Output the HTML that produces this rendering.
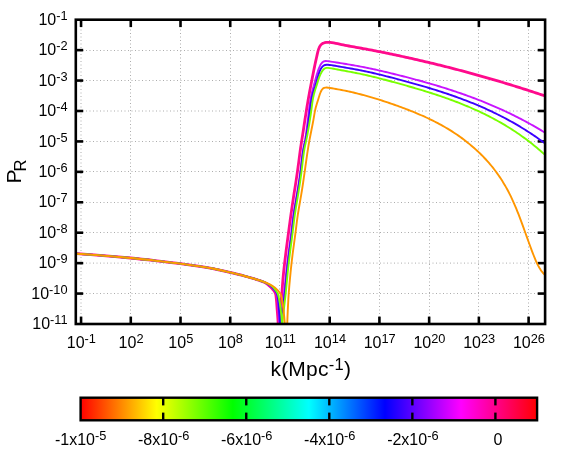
<!DOCTYPE html>
<html><head><meta charset="utf-8"><title>plot</title>
<style>html,body{margin:0;padding:0;background:#fff;}svg{display:block;}text{filter:grayscale(1);}text{font-family:"Liberation Sans",sans-serif;fill:#000;}</style></head><body>
<svg width="572" height="458" viewBox="0 0 572 458">
<rect x="0" y="0" width="572" height="458" fill="#ffffff"/>
<defs><clipPath id="pc"><rect x="75.80" y="19.70" width="469.30" height="304.30"/></clipPath>
<linearGradient id="rb" x1="0" y1="0" x2="1" y2="0"><stop offset="0.00000" stop-color="#ff0000"/><stop offset="0.16667" stop-color="#ffff00"/><stop offset="0.33333" stop-color="#00ff00"/><stop offset="0.50000" stop-color="#00ffff"/><stop offset="0.66667" stop-color="#0000ff"/><stop offset="0.83333" stop-color="#ff00ff"/><stop offset="1.00000" stop-color="#ff0000"/></linearGradient></defs>
<g stroke="#adadad" stroke-width="1" stroke-dasharray="1 2.5" fill="none"><line x1="81.00" y1="324.50" x2="81.00" y2="19.50"/><line x1="130.50" y1="324.50" x2="130.50" y2="19.50"/><line x1="180.50" y1="324.50" x2="180.50" y2="19.50"/><line x1="230.50" y1="324.50" x2="230.50" y2="19.50"/><line x1="279.50" y1="324.50" x2="279.50" y2="19.50"/><line x1="329.50" y1="324.50" x2="329.50" y2="19.50"/><line x1="379.50" y1="324.50" x2="379.50" y2="19.50"/><line x1="429.50" y1="324.50" x2="429.50" y2="19.50"/><line x1="478.50" y1="324.50" x2="478.50" y2="19.50"/><line x1="528.50" y1="324.50" x2="528.50" y2="19.50"/><line x1="75.50" y1="293.50" x2="545.50" y2="293.50"/><line x1="75.50" y1="263.10" x2="545.50" y2="263.10"/><line x1="75.50" y1="232.50" x2="545.50" y2="232.50"/><line x1="75.50" y1="202.50" x2="545.50" y2="202.50"/><line x1="75.50" y1="171.50" x2="545.50" y2="171.50"/><line x1="75.50" y1="141.50" x2="545.50" y2="141.50"/><line x1="75.50" y1="111.00" x2="545.50" y2="111.00"/><line x1="75.50" y1="80.50" x2="545.50" y2="80.50"/><line x1="75.50" y1="50.50" x2="545.50" y2="50.50"/></g>
<g stroke="#000" stroke-width="2.60" fill="none"><line x1="81.05" y1="324.00" x2="81.05" y2="316.60"/><line x1="81.05" y1="19.70" x2="81.05" y2="27.10"/><line x1="130.78" y1="324.00" x2="130.78" y2="316.60"/><line x1="130.78" y1="19.70" x2="130.78" y2="27.10"/><line x1="180.51" y1="324.00" x2="180.51" y2="316.60"/><line x1="180.51" y1="19.70" x2="180.51" y2="27.10"/><line x1="230.23" y1="324.00" x2="230.23" y2="316.60"/><line x1="230.23" y1="19.70" x2="230.23" y2="27.10"/><line x1="279.96" y1="324.00" x2="279.96" y2="316.60"/><line x1="279.96" y1="19.70" x2="279.96" y2="27.10"/><line x1="329.69" y1="324.00" x2="329.69" y2="316.60"/><line x1="329.69" y1="19.70" x2="329.69" y2="27.10"/><line x1="379.42" y1="324.00" x2="379.42" y2="316.60"/><line x1="379.42" y1="19.70" x2="379.42" y2="27.10"/><line x1="429.15" y1="324.00" x2="429.15" y2="316.60"/><line x1="429.15" y1="19.70" x2="429.15" y2="27.10"/><line x1="478.87" y1="324.00" x2="478.87" y2="316.60"/><line x1="478.87" y1="19.70" x2="478.87" y2="27.10"/><line x1="528.60" y1="324.00" x2="528.60" y2="316.60"/><line x1="528.60" y1="19.70" x2="528.60" y2="27.10"/><line x1="75.80" y1="293.57" x2="83.20" y2="293.57"/><line x1="545.10" y1="293.57" x2="537.70" y2="293.57"/><line x1="75.80" y1="263.14" x2="83.20" y2="263.14"/><line x1="545.10" y1="263.14" x2="537.70" y2="263.14"/><line x1="75.80" y1="232.71" x2="83.20" y2="232.71"/><line x1="545.10" y1="232.71" x2="537.70" y2="232.71"/><line x1="75.80" y1="202.28" x2="83.20" y2="202.28"/><line x1="545.10" y1="202.28" x2="537.70" y2="202.28"/><line x1="75.80" y1="171.85" x2="83.20" y2="171.85"/><line x1="545.10" y1="171.85" x2="537.70" y2="171.85"/><line x1="75.80" y1="141.42" x2="83.20" y2="141.42"/><line x1="545.10" y1="141.42" x2="537.70" y2="141.42"/><line x1="75.80" y1="110.99" x2="83.20" y2="110.99"/><line x1="545.10" y1="110.99" x2="537.70" y2="110.99"/><line x1="75.80" y1="80.56" x2="83.20" y2="80.56"/><line x1="545.10" y1="80.56" x2="537.70" y2="80.56"/><line x1="75.80" y1="50.13" x2="83.20" y2="50.13"/><line x1="545.10" y1="50.13" x2="537.70" y2="50.13"/></g>
<g clip-path="url(#pc)" fill="none" stroke-linejoin="round" stroke-linecap="butt"><path d="M72.00,253.40 C73.67,253.50 74.68,253.55 77.00,253.70 C82.28,254.05 94.22,254.89 103.00,255.60 C112.02,256.32 121.52,257.14 130.40,258.00 C138.82,258.81 146.75,259.67 155.00,260.60 C163.38,261.54 171.27,262.37 180.30,263.60 C190.74,265.02 204.86,267.07 214.00,268.80 C220.34,270.00 224.81,271.17 230.00,272.40 C234.93,273.57 239.61,274.70 244.40,276.00 C249.21,277.30 255.04,278.91 258.80,280.20 C261.29,281.05 263.02,281.56 264.90,282.60 C266.75,283.63 268.55,285.10 270.00,286.40 C271.25,287.51 272.27,288.59 273.20,289.80 C274.10,290.97 274.97,292.06 275.50,293.50 C276.13,295.21 276.14,297.22 276.40,299.50 C276.74,302.51 276.93,306.35 277.20,310.00 C277.49,313.96 277.92,318.33 278.10,322.40 C278.28,326.33 278.23,330.13 278.30,334.00" stroke="#ff0a8c" stroke-width="2.80"/><path d="M278.50,334.01 L278.42,331.50 L278.46,328.51 L278.62,325.15 L278.86,321.52 L279.17,317.72 L279.54,313.86 L279.94,310.05 L280.36,306.39 L280.77,302.98 L281.16,299.82 L281.52,296.83 L281.83,293.96 L282.07,291.10 L282.28,288.18 L282.49,285.06 L282.75,281.65 L283.07,277.87 L283.46,273.75 L283.91,269.37 L284.42,264.80 L284.96,260.09 L285.55,255.32 L286.15,250.53 L286.77,245.80 L287.38,241.18 L287.98,236.72 L288.54,232.48 L289.07,228.49 L289.58,224.68 L290.08,220.95 L290.59,217.22 L291.12,213.39 L291.69,209.43 L292.28,205.36 L292.90,201.21 L293.54,197.02 L294.19,192.81 L294.85,188.60 L295.52,184.37 L296.18,180.11 L296.83,175.80 L297.46,171.41 L298.07,166.97 L298.65,162.57 L299.20,158.32 L299.72,154.34 L300.21,150.73 L300.66,147.57 L301.11,144.61 L301.59,141.51 L302.15,137.93 L302.81,133.68 L303.54,128.96 L304.29,124.01 L305.05,119.07 L305.78,114.38 L306.44,110.20 L307.03,106.59 L307.57,103.38 L308.09,100.36 L308.62,97.32 L309.18,94.21 L309.75,91.12 L310.30,88.16 L310.82,85.43 L311.31,82.91 L311.80,80.45 L312.30,77.89 L312.83,75.22 L313.37,72.50 L313.91,69.77 L314.46,67.10 L314.99,64.54 L315.50,62.14 L316.00,59.92 L316.48,57.78 L316.95,55.60 L317.45,53.35 L318.01,51.09 L318.67,48.95 L319.47,47.01 L320.45,45.39 L321.65,44.15 L323.04,43.26 L324.60,42.69 L326.28,42.38 L328.07,42.29 L329.92,42.37 L331.83,42.58 L333.76,42.89 L335.70,43.27 L337.65,43.69 L339.58,44.12 L341.48,44.53 L343.36,44.93 L345.22,45.30 L347.06,45.66 L348.87,46.00 L350.68,46.34 L352.47,46.66 L354.25,46.98 L356.03,47.30 L357.80,47.61 L359.57,47.93 L361.34,48.25 L363.12,48.57 L364.89,48.90 L366.67,49.23 L368.45,49.56 L370.24,49.90 L372.02,50.24 L373.81,50.58 L375.59,50.93 L377.38,51.28 L379.17,51.63 L380.96,51.99 L382.75,52.35 L384.55,52.72 L386.34,53.08 L388.13,53.45 L389.93,53.82 L391.72,54.20 L393.51,54.57 L395.30,54.95 L397.10,55.34 L398.89,55.72 L400.68,56.11 L402.47,56.50 L404.26,56.89 L406.05,57.28 L407.84,57.68 L409.63,58.08 L411.42,58.48 L413.21,58.88 L414.99,59.29 L416.78,59.69 L418.57,60.10 L420.36,60.52 L422.14,60.93 L423.93,61.35 L425.71,61.77 L427.50,62.19 L429.28,62.62 L431.06,63.05 L432.85,63.48 L434.63,63.91 L436.41,64.34 L438.20,64.78 L439.98,65.22 L441.76,65.66 L443.54,66.11 L445.32,66.56 L447.10,67.01 L448.88,67.46 L450.66,67.91 L452.44,68.37 L454.22,68.83 L456.00,69.29 L457.77,69.76 L459.55,70.23 L461.33,70.70 L463.11,71.17 L464.88,71.65 L466.66,72.12 L468.43,72.60 L470.21,73.09 L471.98,73.57 L473.76,74.06 L475.53,74.55 L477.31,75.05 L479.08,75.54 L480.85,76.04 L482.63,76.54 L484.40,77.05 L486.17,77.55 L487.94,78.06 L489.71,78.57 L491.49,79.09 L493.26,79.61 L495.03,80.13 L496.80,80.65 L498.57,81.17 L500.34,81.70 L502.11,82.23 L503.88,82.77 L505.65,83.30 L507.41,83.84 L509.18,84.38 L510.95,84.93 L512.72,85.47 L514.49,86.02 L516.25,86.57 L518.02,87.13 L519.79,87.69 L521.55,88.25 L523.32,88.81 L525.08,89.38 L526.85,89.94 L528.61,90.52 L530.38,91.09 L532.14,91.67 L533.91,92.25 L535.67,92.83 L537.44,93.41 L539.20,94.00 L540.96,94.59 L542.73,95.19 L544.49,95.78 L546.25,96.38 L548.02,96.98" stroke="#ff0a8c" stroke-width="2.80"/><path d="M72.00,253.40 C73.67,253.50 74.68,253.55 77.00,253.70 C82.28,254.05 94.22,254.89 103.00,255.60 C112.02,256.32 121.52,257.14 130.40,258.00 C138.82,258.81 146.75,259.67 155.00,260.60 C163.38,261.54 171.27,262.37 180.30,263.60 C190.74,265.02 204.86,267.07 214.00,268.80 C220.34,270.00 224.81,271.17 230.00,272.40 C234.93,273.57 239.61,274.70 244.40,276.00 C249.21,277.30 255.03,278.94 258.80,280.20 C261.28,281.03 262.96,281.51 264.90,282.50 C266.87,283.50 268.91,284.88 270.50,286.20 C271.87,287.34 272.99,288.54 274.00,289.80 C274.94,290.98 275.82,292.05 276.40,293.50 C277.08,295.20 277.20,297.21 277.50,299.50 C277.89,302.50 278.03,306.35 278.30,310.00 C278.59,313.96 279.00,318.33 279.20,322.40 C279.39,326.33 279.40,330.13 279.50,334.00" stroke="#c814ff" stroke-width="1.90"/><path d="M279.80,334.01 L279.59,331.55 L279.61,328.53 L279.84,325.07 L280.22,321.31 L280.71,317.39 L281.26,313.43 L281.82,309.58 L282.37,305.96 L282.84,302.70 L283.25,299.74 L283.61,296.90 L283.95,294.02 L284.28,290.96 L284.63,287.69 L284.98,284.22 L285.35,280.54 L285.75,276.67 L286.18,272.61 L286.65,268.36 L287.16,263.93 L287.72,259.32 L288.33,254.55 L288.97,249.69 L289.62,244.84 L290.26,240.08 L290.86,235.52 L291.40,231.23 L291.87,227.23 L292.32,223.42 L292.77,219.69 L293.27,215.94 L293.85,212.06 L294.50,208.03 L295.20,203.90 L295.92,199.69 L296.66,195.44 L297.39,191.17 L298.09,186.88 L298.77,182.57 L299.41,178.23 L300.02,173.83 L300.58,169.38 L301.11,164.92 L301.63,160.55 L302.14,156.39 L302.67,152.55 L303.23,149.13 L303.84,146.06 L304.47,143.01 L305.11,139.65 L305.76,135.68 L306.40,131.14 L307.03,126.24 L307.64,121.23 L308.22,116.32 L308.76,111.75 L309.27,107.70 L309.76,104.14 L310.24,100.99 L310.73,98.14 L311.26,95.50 L311.82,93.03 L312.40,90.68 L313.00,88.42 L313.60,86.20 L314.21,83.99 L314.81,81.76 L315.41,79.52 L316.02,77.30 L316.64,75.11 L317.29,72.97 L317.97,70.90 L318.69,68.92 L319.45,67.06 L320.26,65.34 L321.15,63.83 L322.14,62.60 L323.25,61.72 L324.49,61.23 L325.86,61.04 L327.37,61.09 L328.99,61.29 L330.73,61.57 L332.57,61.86 L334.48,62.17 L336.44,62.48 L338.42,62.79 L340.38,63.10 L342.32,63.42 L344.22,63.72 L346.10,64.03 L347.96,64.34 L349.80,64.65 L351.62,64.96 L353.43,65.27 L355.23,65.59 L357.03,65.91 L358.82,66.24 L360.61,66.58 L362.40,66.92 L364.19,67.28 L365.99,67.64 L367.78,68.00 L369.58,68.38 L371.38,68.76 L373.18,69.15 L374.98,69.54 L376.79,69.94 L378.59,70.35 L380.39,70.76 L382.20,71.17 L384.00,71.59 L385.81,72.02 L387.61,72.45 L389.42,72.88 L391.22,73.32 L393.03,73.76 L394.83,74.21 L396.64,74.66 L398.44,75.11 L400.25,75.56 L402.05,76.02 L403.85,76.48 L405.65,76.94 L407.46,77.41 L409.26,77.88 L411.06,78.35 L412.86,78.83 L414.66,79.31 L416.46,79.80 L418.26,80.29 L420.06,80.78 L421.86,81.28 L423.65,81.78 L425.45,82.29 L427.24,82.80 L429.04,83.32 L430.83,83.84 L432.63,84.36 L434.42,84.89 L436.21,85.43 L438.00,85.97 L439.79,86.51 L441.58,87.06 L443.37,87.62 L445.15,88.18 L446.94,88.75 L448.72,89.32 L450.51,89.90 L452.29,90.49 L454.07,91.08 L455.85,91.67 L457.63,92.28 L459.41,92.89 L461.19,93.50 L462.96,94.12 L464.74,94.75 L466.51,95.39 L468.29,96.03 L470.06,96.68 L471.83,97.33 L473.60,98.00 L475.36,98.67 L477.13,99.35 L478.89,100.03 L480.66,100.72 L482.42,101.42 L484.18,102.13 L485.94,102.85 L487.69,103.57 L489.45,104.30 L491.20,105.04 L492.95,105.79 L494.70,106.54 L496.45,107.31 L498.20,108.08 L499.95,108.86 L501.69,109.65 L503.43,110.45 L505.17,111.25 L506.91,112.07 L508.65,112.90 L510.39,113.73 L512.12,114.57 L513.85,115.43 L515.58,116.29 L517.31,117.16 L519.04,118.04 L520.76,118.93 L522.48,119.84 L524.20,120.75 L525.92,121.67 L527.64,122.60 L529.35,123.54 L531.06,124.49 L532.77,125.45 L534.48,126.43 L536.19,127.41 L537.89,128.40 L539.59,129.41 L541.29,130.43 L542.99,131.45 L544.68,132.49 L546.37,133.54 L548.06,134.60" stroke="#c814ff" stroke-width="1.90"/><path d="M72.00,253.40 C73.67,253.50 74.68,253.55 77.00,253.70 C82.28,254.05 94.22,254.89 103.00,255.60 C112.02,256.32 121.52,257.14 130.40,258.00 C138.82,258.81 146.75,259.67 155.00,260.60 C163.38,261.54 171.27,262.37 180.30,263.60 C190.74,265.02 204.86,267.07 214.00,268.80 C220.34,270.00 224.81,271.17 230.00,272.40 C234.93,273.57 239.61,274.70 244.40,276.00 C249.21,277.30 255.03,278.94 258.80,280.20 C261.28,281.03 262.91,281.53 264.90,282.50 C266.98,283.51 269.32,284.86 271.00,286.20 C272.41,287.32 273.49,288.54 274.50,289.80 C275.44,290.98 276.31,292.05 276.90,293.50 C277.59,295.20 277.77,297.21 278.10,299.50 C278.53,302.50 278.71,306.35 279.00,310.00 C279.31,313.96 279.70,318.33 279.90,322.40 C280.09,326.33 280.10,330.13 280.20,334.00" stroke="#3c00ff" stroke-width="1.90"/><path d="M280.30,334.00 L280.06,331.57 L280.08,328.54 L280.32,325.07 L280.73,321.28 L281.25,317.32 L281.84,313.33 L282.46,309.45 L283.05,305.82 L283.56,302.56 L284.00,299.61 L284.39,296.78 L284.74,293.90 L285.07,290.84 L285.40,287.55 L285.74,284.06 L286.08,280.36 L286.45,276.45 L286.85,272.35 L287.30,268.06 L287.80,263.59 L288.35,258.93 L288.98,254.12 L289.64,249.23 L290.31,244.36 L290.95,239.60 L291.54,235.05 L292.04,230.79 L292.47,226.82 L292.86,223.03 L293.27,219.30 L293.73,215.52 L294.30,211.58 L294.95,207.50 L295.66,203.31 L296.41,199.06 L297.17,194.78 L297.91,190.52 L298.62,186.25 L299.30,181.97 L299.93,177.63 L300.52,173.21 L301.06,168.69 L301.55,164.15 L302.03,159.72 L302.53,155.53 L303.06,151.72 L303.65,148.42 L304.30,145.46 L305.01,142.48 L305.74,139.10 L306.48,135.01 L307.21,130.33 L307.93,125.31 L308.61,120.21 L309.25,115.28 L309.83,110.77 L310.34,106.85 L310.82,103.43 L311.32,100.36 L311.87,97.52 L312.49,94.82 L313.16,92.34 L313.82,90.17 L314.44,88.32 L315.04,86.60 L315.61,84.77 L316.18,82.80 L316.75,80.72 L317.33,78.58 L317.93,76.45 L318.58,74.35 L319.27,72.35 L320.02,70.49 L320.85,68.83 L321.77,67.40 L322.78,66.26 L323.89,65.46 L325.13,64.99 L326.49,64.79 L327.97,64.80 L329.59,64.95 L331.34,65.18 L333.21,65.47 L335.16,65.79 L337.15,66.14 L339.15,66.49 L341.12,66.84 L343.07,67.17 L344.98,67.51 L346.86,67.83 L348.73,68.15 L350.57,68.48 L352.39,68.80 L354.21,69.12 L356.01,69.45 L357.81,69.78 L359.60,70.13 L361.39,70.48 L363.19,70.84 L364.99,71.22 L366.79,71.60 L368.59,71.99 L370.39,72.39 L372.19,72.80 L373.99,73.21 L375.80,73.64 L377.60,74.07 L379.41,74.50 L381.21,74.94 L383.02,75.39 L384.83,75.85 L386.63,76.30 L388.44,76.77 L390.25,77.23 L392.06,77.70 L393.87,78.18 L395.68,78.65 L397.48,79.13 L399.29,79.61 L401.10,80.09 L402.91,80.58 L404.71,81.06 L406.52,81.55 L408.33,82.05 L410.13,82.55 L411.94,83.05 L413.75,83.55 L415.55,84.06 L417.36,84.57 L419.16,85.09 L420.96,85.61 L422.76,86.13 L424.57,86.66 L426.37,87.19 L428.17,87.73 L429.97,88.27 L431.76,88.82 L433.56,89.38 L435.36,89.94 L437.15,90.50 L438.95,91.07 L440.74,91.65 L442.53,92.23 L444.33,92.82 L446.11,93.42 L447.90,94.02 L449.69,94.63 L451.48,95.25 L453.26,95.87 L455.04,96.50 L456.83,97.14 L458.61,97.79 L460.38,98.44 L462.16,99.10 L463.94,99.77 L465.71,100.45 L467.48,101.13 L469.25,101.83 L471.02,102.53 L472.79,103.24 L474.55,103.97 L476.32,104.70 L478.08,105.44 L479.84,106.19 L481.59,106.95 L483.35,107.71 L485.10,108.49 L486.85,109.28 L488.60,110.08 L490.34,110.89 L492.09,111.71 L493.83,112.54 L495.57,113.39 L497.31,114.24 L499.04,115.11 L500.77,115.98 L502.50,116.87 L504.23,117.77 L505.95,118.68 L507.67,119.61 L509.39,120.54 L511.11,121.49 L512.82,122.45 L514.53,123.43 L516.24,124.41 L517.95,125.41 L519.65,126.42 L521.35,127.45 L523.04,128.49 L524.74,129.54 L526.43,130.61 L528.11,131.69 L529.80,132.79 L531.48,133.90 L533.15,135.02 L534.83,136.16 L536.50,137.32 L538.17,138.49 L539.83,139.67 L541.49,140.87 L543.15,142.09 L544.80,143.32 L546.45,144.56 L548.10,145.83" stroke="#3c00ff" stroke-width="1.90"/><path d="M72.00,253.40 C73.67,253.50 74.68,253.55 77.00,253.70 C82.28,254.05 94.22,254.89 103.00,255.60 C112.02,256.32 121.52,257.14 130.40,258.00 C138.82,258.81 146.75,259.67 155.00,260.60 C163.38,261.54 171.27,262.37 180.30,263.60 C190.74,265.02 204.86,267.07 214.00,268.80 C220.34,270.00 224.81,271.17 230.00,272.40 C234.93,273.57 239.61,274.70 244.40,276.00 C249.21,277.30 255.03,278.97 258.80,280.20 C261.28,281.01 262.86,281.48 264.90,282.40 C267.09,283.39 269.68,284.64 271.50,286.00 C273.04,287.15 274.23,288.48 275.30,289.80 C276.27,290.99 277.07,292.06 277.70,293.50 C278.44,295.21 278.74,297.21 279.20,299.50 C279.80,302.50 280.36,306.35 280.80,310.00 C281.28,313.95 281.68,318.33 281.90,322.40 C282.11,326.33 282.03,330.13 282.10,334.00" stroke="#78ff00" stroke-width="1.90"/><path d="M282.30,334.01 L282.16,331.55 L282.19,328.52 L282.36,325.04 L282.65,321.25 L283.01,317.30 L283.42,313.32 L283.86,309.45 L284.28,305.82 L284.67,302.56 L285.02,299.59 L285.35,296.74 L285.66,293.84 L285.97,290.76 L286.29,287.47 L286.62,283.96 L286.97,280.26 L287.34,276.36 L287.75,272.26 L288.20,267.98 L288.69,263.51 L289.23,258.86 L289.82,254.05 L290.45,249.17 L291.09,244.31 L291.72,239.55 L292.31,235.00 L292.84,230.73 L293.32,226.75 L293.77,222.95 L294.24,219.21 L294.75,215.43 L295.33,211.50 L295.97,207.44 L296.66,203.28 L297.37,199.04 L298.08,194.76 L298.78,190.47 L299.47,186.17 L300.12,181.85 L300.75,177.48 L301.33,173.06 L301.88,168.57 L302.40,164.09 L302.91,159.73 L303.42,155.60 L303.95,151.82 L304.52,148.47 L305.15,145.43 L305.83,142.36 L306.57,138.91 L307.38,134.81 L308.21,130.18 L309.06,125.24 L309.87,120.22 L310.61,115.34 L311.25,110.82 L311.79,106.83 L312.25,103.32 L312.70,100.21 L313.19,97.44 L313.74,94.93 L314.34,92.64 L314.97,90.54 L315.60,88.57 L316.21,86.70 L316.78,84.89 L317.32,83.12 L317.85,81.37 L318.40,79.64 L318.99,77.91 L319.66,76.18 L320.41,74.43 L321.28,72.70 L322.22,71.10 L323.24,69.75 L324.30,68.74 L325.42,68.15 L326.64,67.89 L328.03,67.90 L329.63,68.10 L331.49,68.41 L333.52,68.79 L335.58,69.17 L337.55,69.54 L339.44,69.88 L341.31,70.21 L343.16,70.55 L345.01,70.88 L346.85,71.22 L348.69,71.56 L350.52,71.90 L352.34,72.24 L354.17,72.59 L355.98,72.95 L357.80,73.32 L359.61,73.69 L361.43,74.07 L363.24,74.47 L365.05,74.87 L366.85,75.28 L368.66,75.70 L370.47,76.12 L372.27,76.56 L374.07,77.00 L375.88,77.45 L377.68,77.90 L379.48,78.36 L381.28,78.83 L383.09,79.30 L384.89,79.77 L386.69,80.25 L388.49,80.73 L390.29,81.22 L392.09,81.71 L393.89,82.20 L395.69,82.70 L397.49,83.19 L399.29,83.69 L401.10,84.19 L402.90,84.70 L404.70,85.20 L406.50,85.71 L408.30,86.22 L410.11,86.74 L411.91,87.26 L413.71,87.78 L415.51,88.31 L417.31,88.84 L419.11,89.37 L420.91,89.91 L422.71,90.46 L424.51,91.01 L426.31,91.56 L428.10,92.12 L429.90,92.69 L431.70,93.26 L433.49,93.83 L435.28,94.42 L437.08,95.01 L438.87,95.61 L440.66,96.21 L442.45,96.82 L444.23,97.44 L446.02,98.07 L447.80,98.70 L449.59,99.34 L451.37,99.99 L453.15,100.65 L454.93,101.32 L456.70,102.00 L458.48,102.68 L460.25,103.38 L462.02,104.08 L463.79,104.79 L465.55,105.52 L467.32,106.25 L469.08,107.00 L470.84,107.75 L472.59,108.52 L474.35,109.30 L476.10,110.08 L477.85,110.88 L479.59,111.70 L481.34,112.52 L483.08,113.36 L484.82,114.20 L486.55,115.06 L488.28,115.94 L490.01,116.82 L491.74,117.72 L493.46,118.64 L495.18,119.56 L496.90,120.50 L498.61,121.46 L500.32,122.43 L502.02,123.41 L503.73,124.41 L505.43,125.42 L507.12,126.45 L508.81,127.49 L510.50,128.55 L512.18,129.63 L513.86,130.72 L515.54,131.83 L517.21,132.95 L518.87,134.09 L520.54,135.25 L522.20,136.42 L523.85,137.61 L525.50,138.82 L527.14,140.05 L528.79,141.29 L530.42,142.56 L532.05,143.84 L533.68,145.14 L535.30,146.46 L536.92,147.79 L538.53,149.15 L540.14,150.53 L541.74,151.92 L543.34,153.34 L544.93,154.78 L546.51,156.23 L548.09,157.71" stroke="#78ff00" stroke-width="1.90"/><path d="M72.00,253.40 C73.67,253.50 74.68,253.55 77.00,253.70 C82.28,254.05 94.22,254.89 103.00,255.60 C112.02,256.32 121.52,257.14 130.40,258.00 C138.82,258.81 146.75,259.67 155.00,260.60 C163.38,261.54 171.27,262.37 180.30,263.60 C190.74,265.02 204.86,267.07 214.00,268.80 C220.34,270.00 224.81,271.17 230.00,272.40 C234.93,273.57 239.61,274.70 244.40,276.00 C249.21,277.30 255.03,279.00 258.80,280.20 C261.27,280.99 262.94,281.55 264.90,282.30 C266.77,283.02 268.60,283.70 270.30,284.60 C271.96,285.48 273.47,286.30 275.00,287.60 C276.82,289.15 279.13,291.38 280.30,293.50 C281.34,295.38 281.51,297.20 282.00,299.50 C282.64,302.50 283.06,306.35 283.50,310.00 C283.97,313.96 284.47,318.33 284.70,322.40 C284.92,326.33 284.83,330.13 284.90,334.00" stroke="#ff9600" stroke-width="1.90"/><path d="M287.10,333.98 L287.12,331.03 L287.16,328.11 L287.23,325.18 L287.31,322.23 L287.41,319.23 L287.52,316.15 L287.66,312.97 L287.81,309.66 L287.98,306.21 L288.16,302.71 L288.35,299.22 L288.56,295.83 L288.78,292.64 L289.01,289.62 L289.26,286.64 L289.53,283.53 L289.84,280.14 L290.19,276.43 L290.57,272.43 L291.00,268.21 L291.47,263.82 L291.99,259.31 L292.55,254.74 L293.15,250.15 L293.76,245.61 L294.37,241.15 L294.95,236.83 L295.49,232.70 L295.99,228.78 L296.45,225.04 L296.90,221.40 L297.38,217.80 L297.91,214.19 L298.50,210.50 L299.14,206.74 L299.81,202.88 L300.50,198.94 L301.19,194.89 L301.87,190.75 L302.53,186.52 L303.18,182.25 L303.81,177.97 L304.42,173.72 L305.01,169.52 L305.58,165.41 L306.14,161.42 L306.69,157.59 L307.21,153.95 L307.72,150.53 L308.22,147.33 L308.73,144.24 L309.28,141.11 L309.90,137.80 L310.60,134.23 L311.35,130.53 L312.09,126.81 L312.79,123.21 L313.42,119.85 L313.94,116.82 L314.39,114.09 L314.83,111.64 L315.30,109.40 L315.81,107.34 L316.35,105.40 L316.92,103.51 L317.51,101.63 L318.11,99.70 L318.72,97.70 L319.35,95.69 L320.00,93.77 L320.70,92.01 L321.44,90.50 L322.24,89.31 L323.13,88.44 L324.14,87.87 L325.31,87.58 L326.67,87.54 L328.22,87.68 L329.98,87.94 L331.93,88.27 L333.98,88.64 L336.00,89.01 L337.92,89.35 L339.74,89.68 L341.49,90.01 L343.21,90.33 L344.91,90.66 L346.62,91.01 L348.33,91.37 L350.04,91.75 L351.76,92.14 L353.47,92.54 L355.19,92.96 L356.91,93.38 L358.63,93.82 L360.35,94.26 L362.07,94.72 L363.78,95.18 L365.49,95.65 L367.20,96.13 L368.91,96.61 L370.62,97.11 L372.32,97.61 L374.03,98.11 L375.73,98.63 L377.43,99.15 L379.13,99.68 L380.82,100.22 L382.52,100.76 L384.21,101.32 L385.90,101.87 L387.60,102.44 L389.29,103.01 L390.98,103.59 L392.67,104.18 L394.35,104.77 L396.04,105.37 L397.73,105.97 L399.42,106.58 L401.10,107.20 L402.79,107.83 L404.47,108.46 L406.16,109.10 L407.84,109.74 L409.52,110.40 L411.21,111.06 L412.89,111.74 L414.57,112.42 L416.24,113.11 L417.92,113.81 L419.59,114.52 L421.26,115.25 L422.93,115.98 L424.60,116.73 L426.26,117.49 L427.92,118.26 L429.58,119.05 L431.23,119.85 L432.89,120.66 L434.53,121.49 L436.18,122.33 L437.82,123.19 L439.45,124.06 L441.09,124.95 L442.72,125.85 L444.34,126.78 L445.96,127.72 L447.57,128.67 L449.18,129.65 L450.79,130.64 L452.39,131.65 L453.98,132.68 L455.57,133.73 L457.15,134.80 L458.73,135.89 L460.30,137.00 L461.86,138.14 L463.42,139.29 L464.97,140.47 L466.52,141.67 L468.05,142.89 L469.58,144.13 L471.11,145.40 L472.62,146.69 L474.13,148.01 L475.63,149.35 L477.13,150.72 L478.61,152.11 L480.09,153.53 L481.56,154.98 L483.01,156.46 L484.46,157.97 L485.90,159.51 L487.33,161.08 L488.74,162.69 L490.15,164.33 L491.54,166.01 L492.92,167.72 L494.29,169.47 L495.64,171.26 L496.98,173.09 L498.31,174.97 L499.62,176.88 L500.92,178.84 L502.20,180.84 L503.47,182.89 L504.72,184.98 L505.96,187.12 L507.17,189.31 L508.37,191.55 L509.56,193.84 L510.72,196.18 L511.86,198.58 L512.99,201.03 L514.10,203.53 L515.19,206.07 L516.27,208.66 L517.33,211.29 L518.39,213.96 L519.43,216.65 L520.46,219.38 L521.48,222.13 L522.50,224.89 L523.51,227.68 L524.52,230.47 L525.53,233.28 L526.54,236.09 L527.55,238.89 L528.56,241.70 L529.57,244.50 L530.59,247.28 L531.62,250.06 L532.66,252.81 L533.70,255.52 L534.77,258.18 L535.87,260.76 L536.99,263.24 L538.16,265.60 L539.37,267.82 L540.63,269.87 L541.95,271.73 L543.33,273.39 L544.78,274.82 L546.31,276.00 L547.93,276.90" stroke="#ff9600" stroke-width="1.90"/></g>
<rect x="75.80" y="19.70" width="469.30" height="304.30" fill="none" stroke="#000" stroke-width="2.60"/>
<text x="67.60" y="329.20" text-anchor="end" font-size="16.00">10<tspan font-size="12.80" dy="-5.00">-11</tspan></text>
<text x="67.60" y="298.77" text-anchor="end" font-size="16.00">10<tspan font-size="12.80" dy="-5.00">-10</tspan></text>
<text x="67.60" y="268.34" text-anchor="end" font-size="16.00">10<tspan font-size="12.80" dy="-5.00">-9</tspan></text>
<text x="67.60" y="237.91" text-anchor="end" font-size="16.00">10<tspan font-size="12.80" dy="-5.00">-8</tspan></text>
<text x="67.60" y="207.48" text-anchor="end" font-size="16.00">10<tspan font-size="12.80" dy="-5.00">-7</tspan></text>
<text x="67.60" y="177.05" text-anchor="end" font-size="16.00">10<tspan font-size="12.80" dy="-5.00">-6</tspan></text>
<text x="67.60" y="146.62" text-anchor="end" font-size="16.00">10<tspan font-size="12.80" dy="-5.00">-5</tspan></text>
<text x="67.60" y="116.19" text-anchor="end" font-size="16.00">10<tspan font-size="12.80" dy="-5.00">-4</tspan></text>
<text x="67.60" y="85.76" text-anchor="end" font-size="16.00">10<tspan font-size="12.80" dy="-5.00">-3</tspan></text>
<text x="67.60" y="55.33" text-anchor="end" font-size="16.00">10<tspan font-size="12.80" dy="-5.00">-2</tspan></text>
<text x="67.60" y="24.90" text-anchor="end" font-size="16.00">10<tspan font-size="12.80" dy="-5.00">-1</tspan></text>
<text x="81.35" y="348.20" text-anchor="middle" font-size="16.00">10<tspan font-size="12.80" dy="-5.00">-1</tspan></text>
<text x="131.08" y="348.20" text-anchor="middle" font-size="16.00">10<tspan font-size="12.80" dy="-5.00">2</tspan></text>
<text x="180.81" y="348.20" text-anchor="middle" font-size="16.00">10<tspan font-size="12.80" dy="-5.00">5</tspan></text>
<text x="230.53" y="348.20" text-anchor="middle" font-size="16.00">10<tspan font-size="12.80" dy="-5.00">8</tspan></text>
<text x="280.26" y="348.20" text-anchor="middle" font-size="16.00">10<tspan font-size="12.80" dy="-5.00">11</tspan></text>
<text x="329.99" y="348.20" text-anchor="middle" font-size="16.00">10<tspan font-size="12.80" dy="-5.00">14</tspan></text>
<text x="379.72" y="348.20" text-anchor="middle" font-size="16.00">10<tspan font-size="12.80" dy="-5.00">17</tspan></text>
<text x="429.45" y="348.20" text-anchor="middle" font-size="16.00">10<tspan font-size="12.80" dy="-5.00">20</tspan></text>
<text x="479.17" y="348.20" text-anchor="middle" font-size="16.00">10<tspan font-size="12.80" dy="-5.00">23</tspan></text>
<text x="528.90" y="348.20" text-anchor="middle" font-size="16.00">10<tspan font-size="12.80" dy="-5.00">26</tspan></text>
<text x="310.8" y="375.8" text-anchor="middle" font-size="21" letter-spacing="0.25">k(Mpc<tspan font-size="16.5" dy="-5.5">-1</tspan><tspan font-size="21" dy="5.5">)</tspan></text>
<g transform="translate(21.2,171.3) rotate(-90)"><text x="-12.3" y="0" font-size="21">P</text><text x="-0.3" y="4.6" font-size="16.5">R</text></g>
<rect x="80.60" y="397.70" width="456.50" height="22.60" fill="url(#rb)"/>
<g stroke="#000" stroke-width="2.40" fill="none"><line x1="495.40" y1="397.70" x2="495.40" y2="405.40"/><line x1="495.40" y1="420.30" x2="495.40" y2="412.60"/><line x1="412.35" y1="397.70" x2="412.35" y2="405.40"/><line x1="412.35" y1="420.30" x2="412.35" y2="412.60"/><line x1="329.30" y1="397.70" x2="329.30" y2="405.40"/><line x1="329.30" y1="420.30" x2="329.30" y2="412.60"/><line x1="246.25" y1="397.70" x2="246.25" y2="405.40"/><line x1="246.25" y1="420.30" x2="246.25" y2="412.60"/><line x1="163.20" y1="397.70" x2="163.20" y2="405.40"/><line x1="163.20" y1="420.30" x2="163.20" y2="412.60"/></g>
<rect x="80.60" y="397.70" width="456.50" height="22.60" fill="none" stroke="#000" stroke-width="2.40"/>
<text x="80.65" y="445.20" text-anchor="middle" font-size="16.00">-1x10<tspan font-size="12.80" dy="-5.00">-5</tspan></text>
<text x="163.70" y="445.20" text-anchor="middle" font-size="16.00">-8x10<tspan font-size="12.80" dy="-5.00">-6</tspan></text>
<text x="246.75" y="445.20" text-anchor="middle" font-size="16.00">-6x10<tspan font-size="12.80" dy="-5.00">-6</tspan></text>
<text x="329.80" y="445.20" text-anchor="middle" font-size="16.00">-4x10<tspan font-size="12.80" dy="-5.00">-6</tspan></text>
<text x="412.85" y="445.20" text-anchor="middle" font-size="16.00">-2x10<tspan font-size="12.80" dy="-5.00">-6</tspan></text>
<text x="497.90" y="445.20" text-anchor="middle" font-size="16.00">0<tspan font-size="12.80" dy="-5.00"></tspan></text>
</svg></body></html>
